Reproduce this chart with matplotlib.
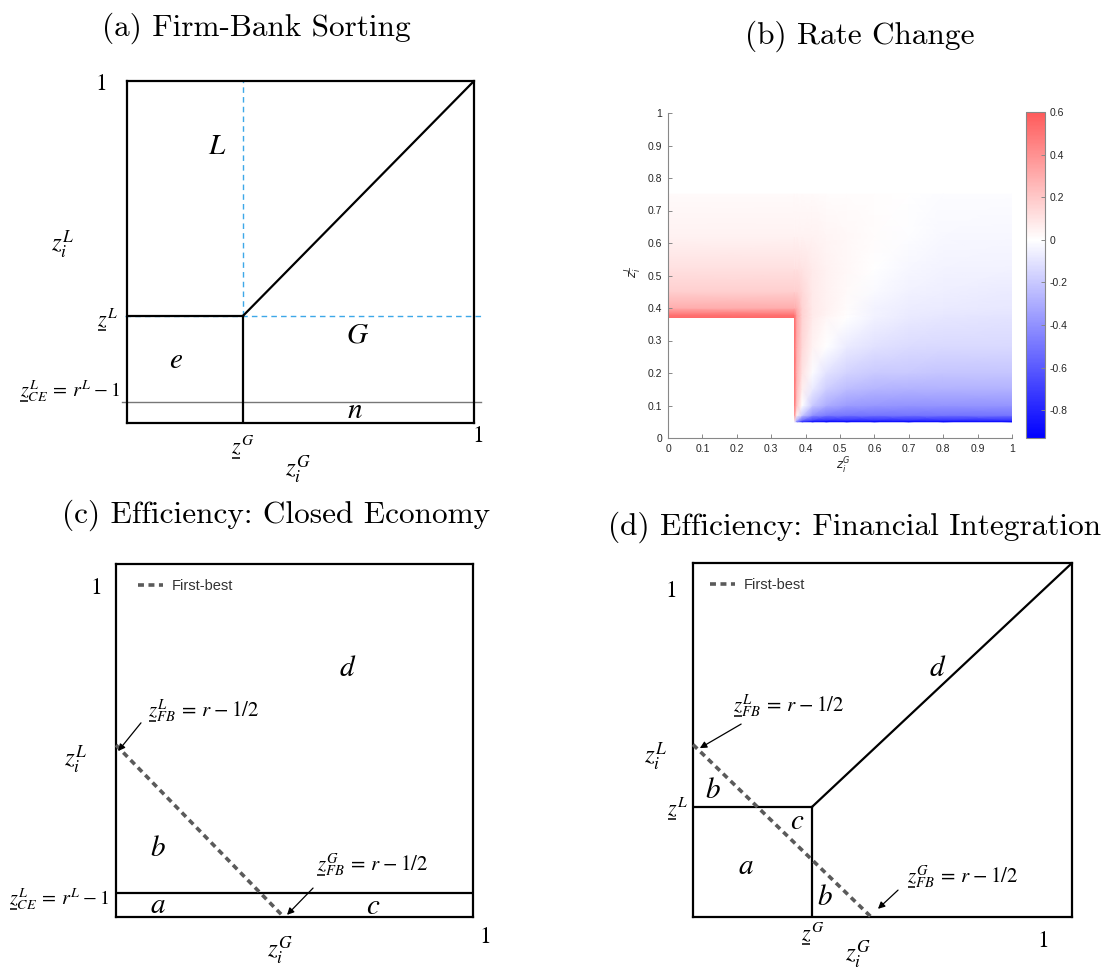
import numpy as np
import matplotlib
matplotlib.use("Agg")
import matplotlib.pyplot as plt
from matplotlib.colors import LinearSegmentedColormap
from matplotlib.patches import Rectangle
from matplotlib.lines import Line2D
from matplotlib.transforms import IdentityTransform

plt.rcParams["mathtext.fontset"] = "stix"
plt.rcParams["font.family"] = ["DejaVu Sans"]

W, H = 1108, 969
DPI = 100
fig = plt.figure(figsize=(W / DPI, H / DPI), dpi=DPI)

# ---------------- data ----------------
titles = ["(a) Firm-Bank Sorting", "(b) Rate Change",
          "(c) Efficiency: Closed Economy", "(d) Efficiency: Financial Integration"]

# (a) sorting cutoffs
a_zG_cut = 0.334
a_zL_cut = 0.313
a_zL_ce = 0.061

# (b) change in the lending rate over (z_i^G, z_i^L)
b_zG = [0.0, 0.367, 0.375, 0.39, 0.42, 0.46, 0.52, 0.6, 0.7, 0.8, 1.0]
b_zL = [0.05, 0.055, 0.07, 0.1, 0.15, 0.2, 0.28, 0.37, 0.38, 0.40, 0.45, 0.52, 0.62, 0.75]
b_rate = [
    [0.0, 0.0, -0.50, -0.80, -0.90, -0.93, -0.93, -0.93, -0.93, -0.93, -0.93],
    [0.0, 0.10, -0.30, -0.55, -0.70, -0.75, -0.75, -0.75, -0.75, -0.75, -0.75],
    [0.0, 0.40, 0.05, -0.20, -0.40, -0.48, -0.50, -0.50, -0.50, -0.50, -0.50],
    [0.0, 0.50, 0.20, 0.00, -0.20, -0.30, -0.36, -0.38, -0.39, -0.39, -0.39],
    [0.0, 0.52, 0.25, 0.06, -0.08, -0.18, -0.24, -0.27, -0.28, -0.28, -0.28],
    [0.0, 0.53, 0.27, 0.10, -0.01, -0.10, -0.16, -0.19, -0.20, -0.21, -0.21],
    [0.0, 0.54, 0.30, 0.14, 0.04, 0.00, -0.07, -0.11, -0.13, -0.14, -0.14],
    [0.55, 0.55, 0.32, 0.16, 0.07, 0.03, 0.00, -0.05, -0.08, -0.09, -0.10],
    [0.50, 0.50, 0.32, 0.16, 0.08, 0.04, 0.005, -0.045, -0.075, -0.085, -0.095],
    [0.30, 0.30, 0.28, 0.16, 0.08, 0.045, 0.01, -0.04, -0.065, -0.075, -0.085],
    [0.17, 0.17, 0.17, 0.14, 0.08, 0.045, 0.02, -0.02, -0.05, -0.06, -0.07],
    [0.11, 0.11, 0.11, 0.10, 0.07, 0.045, 0.025, 0.0, -0.03, -0.045, -0.05],
    [0.05, 0.05, 0.05, 0.05, 0.045, 0.035, 0.025, 0.012, -0.005, -0.025, -0.03],
    [0.015, 0.015, 0.015, 0.015, 0.015, 0.014, 0.012, 0.008, 0.002, -0.01, -0.015],
]
b_empty_zG = 0.367
b_empty_zL = 0.37
b_ticks = [0, 0.1, 0.2, 0.3, 0.4, 0.5, 0.6, 0.7, 0.8, 0.9, 1]
b_ticklabels = ["0", "0.1", "0.2", "0.3", "0.4", "0.5", "0.6", "0.7", "0.8", "0.9", "1"]
b_cbar_ticks = [-0.8, -0.6, -0.4, -0.2, 0, 0.2, 0.4, 0.6]
b_cbar_labels = ["-0.8", "-0.6", "-0.4", "-0.2", "0", "0.2", "0.4", "0.6"]
b_vmin, b_vmax = -0.93, 0.6

# (c), (d) efficiency cutoffs
c_zL_ce = 0.068
fb_zL = 0.487
fb_zG = 0.47
d_zG_cut = 0.314
d_zL_cut = 0.311

# ---------------- helpers ----------------
SERIF_TITLE = "cmr10"
SANS = ["Liberation Sans", "DejaVu Sans"]
LW = 1.6
FB_COLOR = "#5a5a5a"
underlined = []

CE_TEXT = r"$z^L_{CE}\:=\:r^L\:-\:1$"
FB_L_TEXT = r"$z^L_{FB}\:=\:r\:-\:1/2$"
FB_G_TEXT = r"$z^G_{FB}\:=\:r\:-\:1/2$"


def px_axes(x0, y0, x1, y1):
    return fig.add_axes([x0 / W, 1 - y1 / H, (x1 - x0) / W, (y1 - y0) / H])


def box_axes(x0, y0, x1, y1):
    ax = px_axes(x0, y0, x1, y1)
    ax.set_xlim(0, 1)
    ax.set_ylim(0, 1)
    ax.set_xticks([])
    ax.set_yticks([])
    for s in ax.spines.values():
        s.set_linewidth(LW)
    return ax


def label(ax, x, y, s, size=16, ha="center", va="center", **kw):
    return ax.text(x, y, s, ha=ha, va=va, fontsize=size, clip_on=False, **kw)


def zbar_label(ax, x, y, s, size=15, ha="left"):
    # cutoff label whose leading z carries an underbar; y is the baseline
    t = label(ax, x, y, s, size=size, ha=ha, va="baseline")
    underlined.append((t, size))


def one(ax, x, y):
    ax.text(x, y, "1", ha="center", va="center", fontsize=17,
            family="STIXGeneral", clip_on=False)


def first_best(ax, legend_anchor):
    ax.plot([0, fb_zG], [fb_zL, 0], color=FB_COLOR, lw=2.6,
            dashes=(1.65, 1.25), label="First-best", clip_on=False, zorder=3)
    leg = ax.legend(loc="upper left", bbox_to_anchor=legend_anchor, frameon=False,
                    handlelength=1.7, handletextpad=0.6, borderaxespad=0,
                    prop={"family": SANS, "size": 10.5})
    for t in leg.get_texts():
        t.set_color("#333333")


def arrow(ax, tail, head):
    ax.annotate("", xy=head, xytext=tail,
                arrowprops=dict(arrowstyle="-|>", lw=0.9, color="k",
                                mutation_scale=10, shrinkA=0, shrinkB=0),
                annotation_clip=False)


# titles
for s, (cx, cy) in zip(titles, [(256, 28), (860, 36), (276, 515), (855, 527)]):
    fig.text(cx / W, 1 - cy / H, s, ha="center", va="center",
             fontsize=22.5, family=SERIF_TITLE)

# ---------------- (a) Firm-Bank Sorting ----------------
ax = box_axes(127, 81, 474, 423)
blue = "#3da8e8"
ax.plot([a_zG_cut, a_zG_cut], [a_zL_cut, 1], color=blue, lw=1.0, ls=(0, (4, 3)), zorder=1)
ax.plot([-0.006, 1.027], [a_zL_cut, a_zL_cut], color=blue, lw=1.0, ls=(0, (4, 3)),
        clip_on=False, zorder=1)
ax.plot([-0.015, 1.02], [a_zL_ce, a_zL_ce], color="#777777", lw=1.0, clip_on=False, zorder=1)
ax.plot([0, a_zG_cut], [a_zL_cut, a_zL_cut], color="k", lw=LW, zorder=2)
ax.plot([a_zG_cut, a_zG_cut], [0, a_zL_cut], color="k", lw=LW, zorder=2)
ax.plot([a_zG_cut, 1], [a_zL_cut, 1], color="k", lw=LW, zorder=2)

one(ax, -0.075, 0.99)
one(ax, 1.012, -0.04)
label(ax, -0.187, 0.52, r"$z_i^L$", size=18)
label(ax, 0.493, -0.137, r"$z_i^G$", size=18)
zbar_label(ax, -0.026, 0.284, r"$z^L$", size=16, ha="right")
zbar_label(ax, 0.334, -0.088, r"$z^G$", size=16, ha="center")
zbar_label(ax, -0.018, 0.076, CE_TEXT, size=14.5, ha="right")
label(ax, 0.26, 0.81, r"$L$", size=21)
label(ax, 0.663, 0.26, r"$G$", size=21)
label(ax, 0.141, 0.184, r"$e$", size=21)
label(ax, 0.657, 0.038, r"$n$", size=21)

# ---------------- (b) Rate Change ----------------
cmap = LinearSegmentedColormap.from_list(
    "bwr_rate", [(0.0, (0, 0, 1)), (-b_vmin / (b_vmax - b_vmin), (1, 1, 1)),
                 (1.0, (1, 0.355, 0.355))])
axb = px_axes(668, 113, 1012, 438)
mesh = axb.pcolormesh(b_zG, b_zL, np.array(b_rate), shading="gouraud",
                      cmap=cmap, vmin=b_vmin, vmax=b_vmax, zorder=1)
axb.add_patch(Rectangle((0, 0), b_empty_zG, b_empty_zL, facecolor="white",
                        edgecolor="none", zorder=1.5))
axb.set_xlim(0, 1)
axb.set_ylim(0, 1)
axb.spines["top"].set_visible(False)
axb.spines["right"].set_visible(False)
for s in ("left", "bottom"):
    axb.spines[s].set_color("#888888")
    axb.spines[s].set_linewidth(0.8)
axb.set_xticks(b_ticks)
axb.set_xticklabels(b_ticklabels)
axb.set_yticks(b_ticks)
axb.set_yticklabels(b_ticklabels)
axb.tick_params(direction="in", length=3, width=0.7, color="#888888",
                labelsize=7.5, labelcolor="#262626", pad=4)
for t in axb.get_xticklabels() + axb.get_yticklabels():
    t.set_family(SANS)
axb.set_xlabel(r"$z_i^G$", fontsize=8.5, math_fontfamily="dejavusans", color="#262626")
axb.set_ylabel(r"$z_i^L$", fontsize=8.5, math_fontfamily="dejavusans", color="#262626")
axb.xaxis.set_label_coords((843 - 668) / 344, -(456 - 438) / 325)
axb.yaxis.set_label_coords(-(668 - 644) / 344, (438 - 272) / 325)

cax = px_axes(1026, 112, 1045, 438)
cb = fig.colorbar(mesh, cax=cax, ticks=b_cbar_ticks)
cb.ax.set_yticklabels(b_cbar_labels)
cb.outline.set_edgecolor("#888888")
cb.outline.set_linewidth(0.8)
cb.ax.tick_params(direction="in", length=3, width=0.7, color="#888888",
                  labelsize=7.5, labelcolor="#262626", pad=3)
for t in cb.ax.get_yticklabels():
    t.set_family(SANS)

# ---------------- (c) Efficiency: Closed Economy ----------------
axc = box_axes(116, 564, 473, 917)
axc.plot([0, 1], [c_zL_ce, c_zL_ce], color="k", lw=LW, zorder=2)
first_best(axc, (0.045, 0.975))
one(axc, -0.056, 0.93)
one(axc, 1.034, -0.057)
label(axc, -0.112, 0.445, r"$z_i^L$", size=18)
label(axc, 0.46, -0.097, r"$z_i^G$", size=18)
zbar_label(axc, -0.017, 0.034, CE_TEXT, size=14.5, ha="right")
zbar_label(axc, 0.09, 0.567, FB_L_TEXT, size=15, ha="left")
arrow(axc, (0.07, 0.55), (0.006, 0.47))
zbar_label(axc, 0.563, 0.13, FB_G_TEXT, size=15, ha="left")
arrow(axc, (0.552, 0.082), (0.479, 0.006))
label(axc, 0.65, 0.705, r"$d$", size=21)
label(axc, 0.118, 0.195, r"$b$", size=21)
label(axc, 0.118, 0.034, r"$a$", size=21)
label(axc, 0.72, 0.03, r"$c$", size=21)

# ---------------- (d) Efficiency: Financial Integration ----------------
axd = box_axes(693, 563, 1072, 917)
axd.plot([0, d_zG_cut], [d_zL_cut, d_zL_cut], color="k", lw=LW, zorder=2)
axd.plot([d_zG_cut, d_zG_cut], [0, d_zL_cut], color="k", lw=LW, zorder=2)
axd.plot([d_zG_cut, 1], [d_zL_cut, 1], color="k", lw=LW, zorder=2)
first_best(axd, (0.03, 0.975))
one(axd, -0.058, 0.921)
one(axd, 0.923, -0.068)
label(axd, -0.1, 0.452, r"$z_i^L$", size=18)
label(axd, 0.435, -0.107, r"$z_i^G$", size=18)
zbar_label(axd, -0.013, 0.288, r"$z^L$", size=16, ha="right")
zbar_label(axd, 0.317, -0.065, r"$z^G$", size=16, ha="center")
zbar_label(axd, 0.106, 0.579, FB_L_TEXT, size=15, ha="left")
arrow(axd, (0.127, 0.545), (0.018, 0.477))
zbar_label(axd, 0.565, 0.096, FB_G_TEXT, size=15, ha="left")
arrow(axd, (0.541, 0.076), (0.488, 0.023))
label(axd, 0.646, 0.703, r"$d$", size=21)
label(axd, 0.053, 0.359, r"$b$", size=21)
label(axd, 0.274, 0.271, r"$c$", size=21)
label(axd, 0.14, 0.144, r"$a$", size=21)
label(axd, 0.348, 0.056, r"$b$", size=21)

# underbars beneath the leading z of the cutoff labels
fig.canvas.draw()
renderer = fig.canvas.get_renderer()
for t, size in underlined:
    bb = t.get_window_extent(renderer)
    _, yb = t.get_transform().transform(t.get_position())
    em = size * DPI / 72.0
    y_bar = yb - 0.2 * em
    fig.add_artist(Line2D([bb.x0 + 0.02 * em, bb.x0 + 0.40 * em], [y_bar, y_bar],
                          transform=IdentityTransform(), color="k", lw=1.1,
                          solid_capstyle="butt"))

fig.savefig("out.png", dpi=DPI)
